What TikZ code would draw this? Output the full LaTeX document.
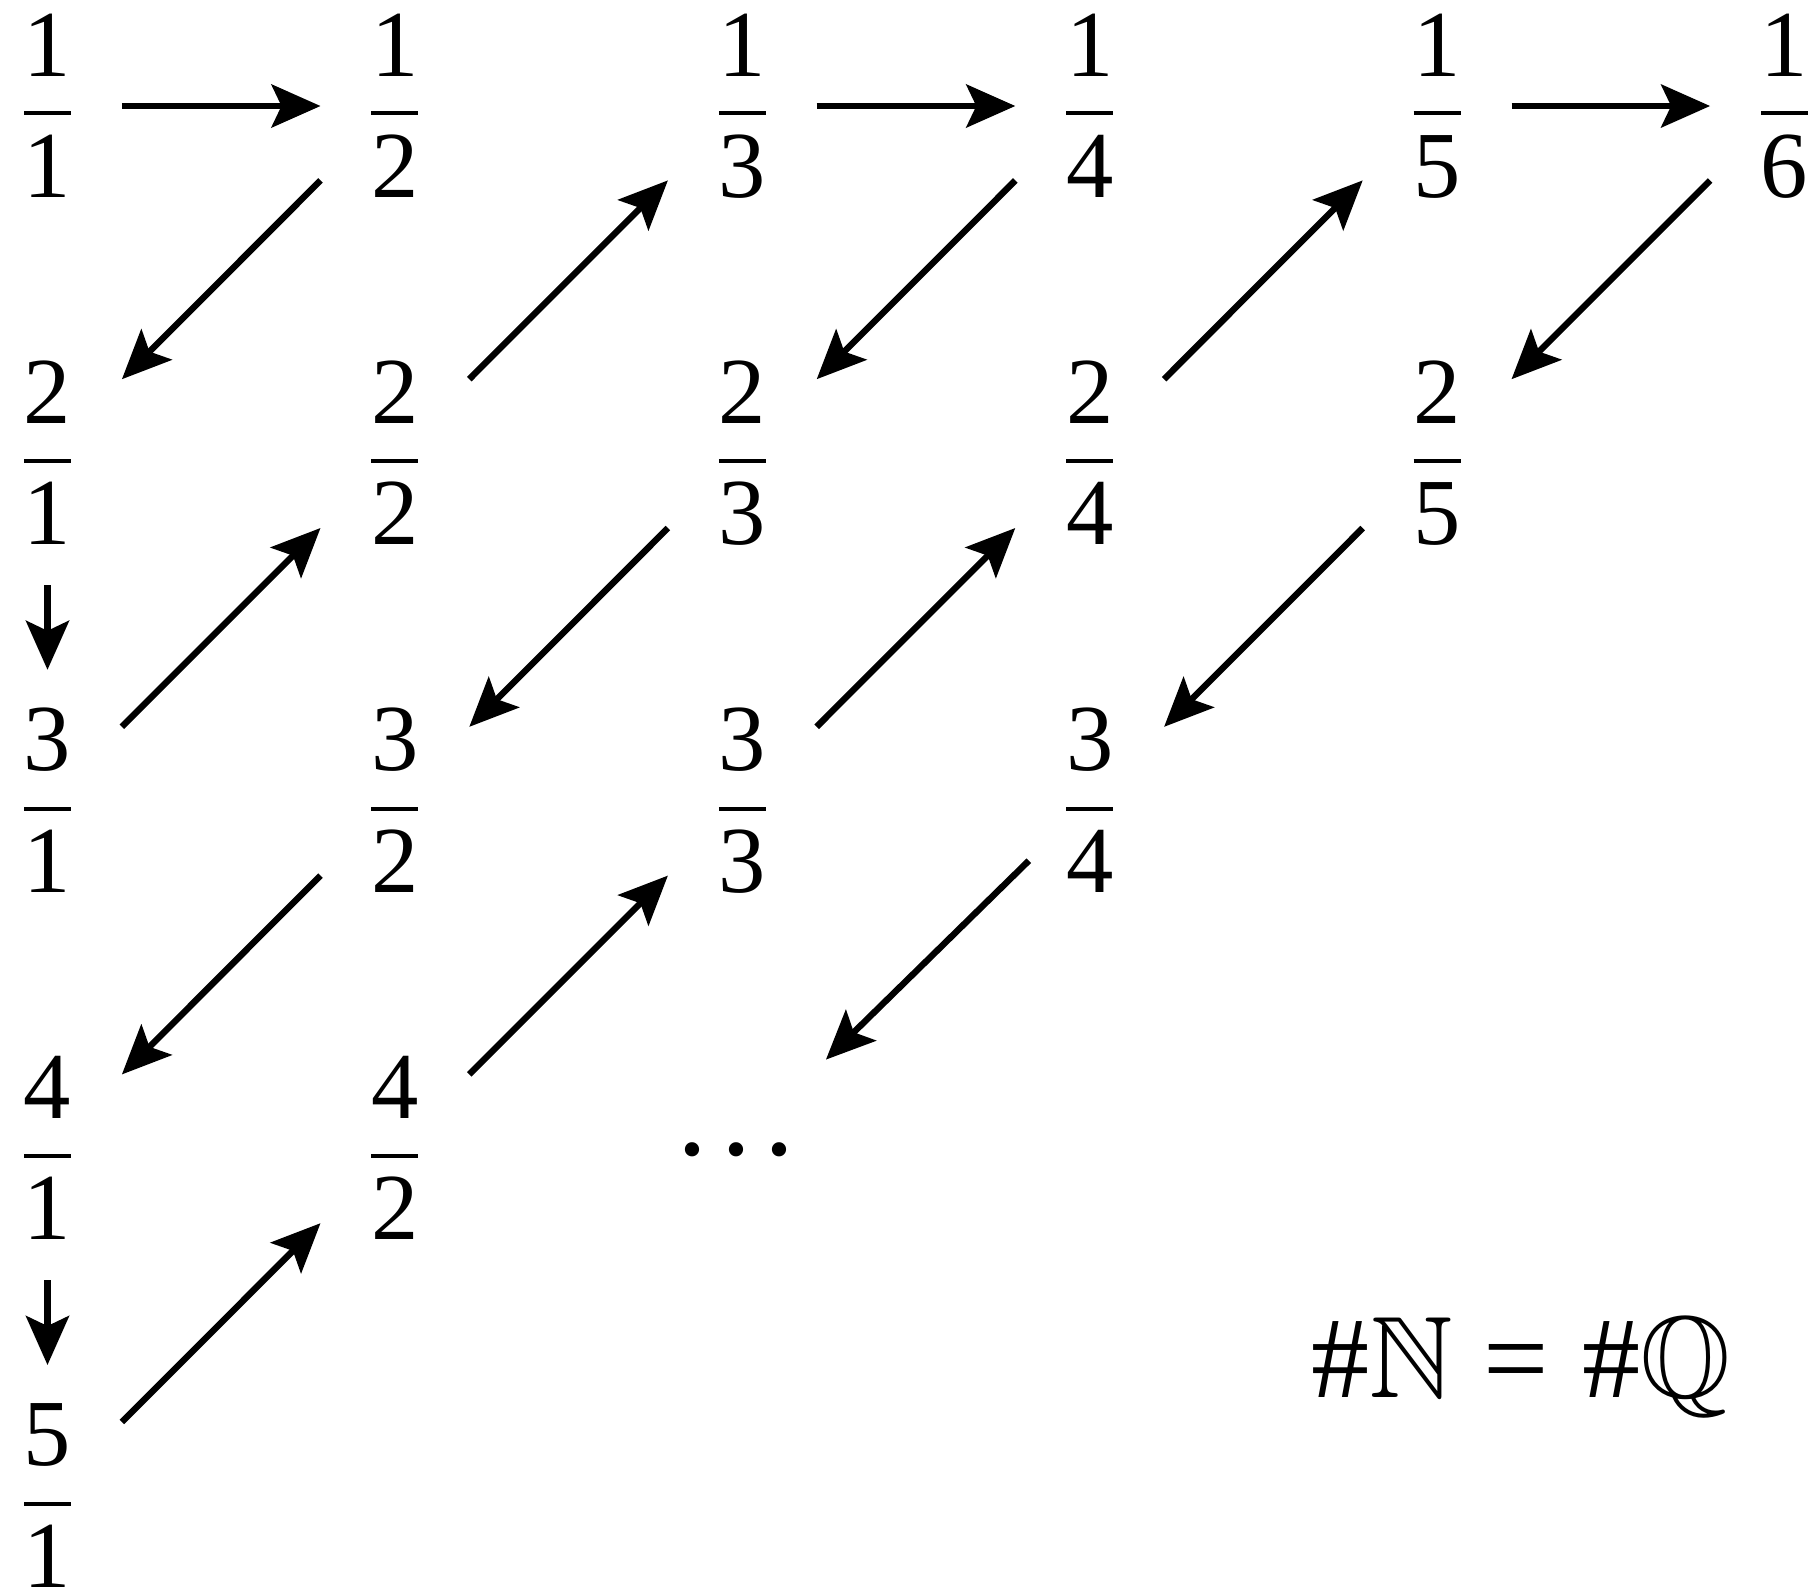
\documentclass[tikz,border=0pt]{standalone}
\usepackage{amssymb}
\usepackage{fontspec}
\setmainfont{Liberation Serif}
\usetikzlibrary{arrows.meta}

% blackboard bold at any size
\DeclareFontFamily{U}{msb}{}
\DeclareFontShape{U}{msb}{m}{n}{<-> msbm10}{}

% a stacked fraction: numerator, bar, denominator
% (the bar sits 3.5pt below the centre of the box)
\newcommand\fracstack[2]{%
  \vbox{\offinterlineskip
    \halign{\hfil##\hfil\cr
      \vrule height 33pt width 0pt #1\cr
      \noalign{\kern17.5pt}
      \vrule height 1pt depth 1pt width 23.5pt\cr
      \noalign{\kern8pt}
      \vrule height 33pt depth 2.5pt width 0pt #2\cr}}}

\tikzset{
  frac/.style={inner sep=0pt, minimum width=74pt, minimum height=131pt,
    font=\fontsize{47.3pt}{50pt}\selectfont},
  link/.style={line width=3.2pt,
    -{Stealth[length=24.5pt,width=21.5pt,inset=5pt]}},
}

\begin{document}
\begin{tikzpicture}[x=0.5pt,y=-0.5pt]
\useasboundingbox (0,0) rectangle (1817,1587);

% the grid of fractions n/d
\foreach \n/\d in {1/1,1/2,1/3,1/4,1/5,1/6,
                   2/1,2/2,2/3,2/4,2/5,
                   3/1,3/2,3/3,3/4,
                   4/1,4/2,
                   5/1}{
  \node[frac] (f\n\d) at ({47.5+347.4*(\d-1)},{106+347.6*(\n-1)})
    {\fracstack{\n}{\d}};
}

% continuation dots
\node[inner sep=0pt, minimum width=94pt, minimum height=88pt,
      font=\fontsize{60pt}{62pt}\selectfont] (dots) at (736,1148)
  {\smash{\raisebox{-20.5pt}{·\kern1.8pt·\kern1.8pt·}}};

% cardinality statement
\node[anchor=base, inner sep=0pt, font=\fontsize{58pt}{60pt}\selectfont]
  (card) at (1521.5,1397)
  {\#$\mathbb{N}$\hspace{15pt}=\hspace{17pt}\#$\mathbb{Q}$};

% the zig-zag enumeration
\foreach \a/\b in {f11/f12, f12/f21, f21/f31, f31/f22, f22/f13,
                   f13/f14, f14/f23, f23/f32, f32/f41, f41/f51,
                   f51/f42, f42/f33, f33/f24, f24/f15, f15/f16,
                   f16/f25, f25/f34}{
  \draw[link] (\a) -- (\b);
}
\draw[link, shorten <=-9.5pt] (f34) -- (dots);
\end{tikzpicture}
\end{document}
